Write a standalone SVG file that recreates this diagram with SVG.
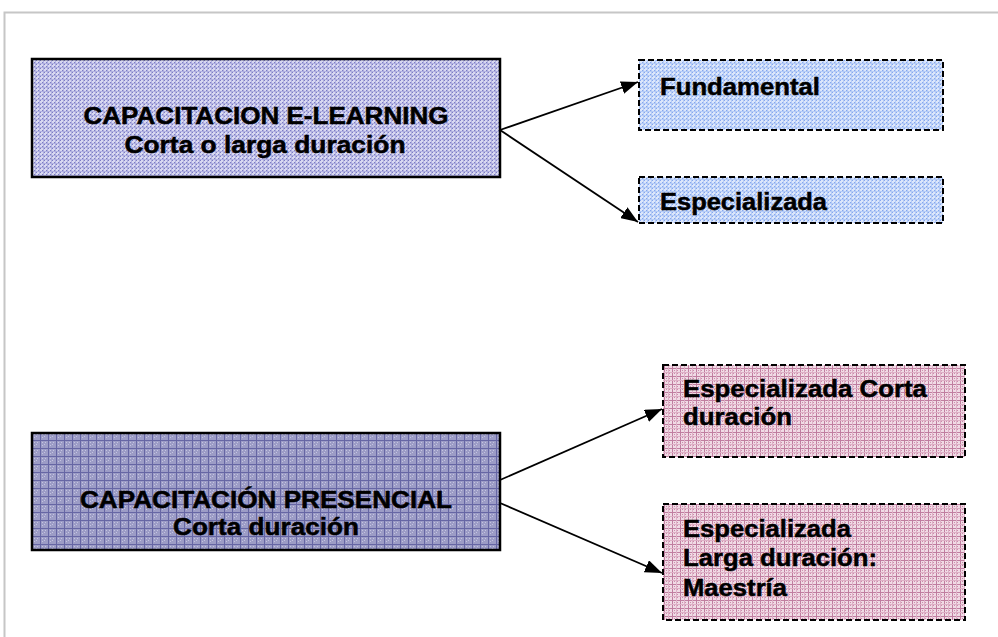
<svg xmlns="http://www.w3.org/2000/svg" width="998" height="637" viewBox="0 0 998 637">
<defs>
<style>
.t{font-family:"Liberation Sans",Arial,sans-serif;font-weight:bold;font-size:23.5px;fill:#000;stroke:#000;stroke-width:0.5px;}
.solid{stroke:#000;stroke-width:2.5;}
.dash{stroke:#000;stroke-width:2;stroke-dasharray:6 3;}
.conn{stroke:#000;stroke-width:1.8;fill:none;}
</style>
<pattern id="pLav" width="4" height="4" patternUnits="userSpaceOnUse">
<rect width="4" height="4" fill="#d8d8f1"/>
<rect x="0" y="0" width="1" height="1" fill="#7c7cc4"/>
<rect x="2" y="2" width="1" height="1" fill="#7c7cc4"/>
<rect x="0" y="3" width="4" height="1" fill="#b0b0e0"/>
<rect x="3" y="0" width="1" height="4" fill="#b0b0e0"/>
</pattern>
<pattern id="pDark" width="8" height="8" patternUnits="userSpaceOnUse">
<rect width="8" height="8" fill="#9c9cc6"/>
<rect x="2" y="2" width="1" height="1" fill="#c4c4e0"/>
<rect x="4" y="4" width="1" height="1" fill="#c4c4e0"/>
<rect x="2" y="5" width="1" height="1" fill="#c4c4e0"/>
<rect x="5" y="2" width="1" height="1" fill="#c4c4e0"/>
<rect x="0" y="0" width="8" height="1" fill="#6666a4"/>
<rect x="0" y="0" width="1" height="8" fill="#6666a4"/>
</pattern>
<pattern id="pBlue" width="4" height="4" patternUnits="userSpaceOnUse">
<rect width="4" height="4" fill="#dbe6fb"/>
<rect x="0" y="0" width="1" height="1" fill="#86a6ee"/>
<rect x="2" y="2" width="1" height="1" fill="#86a6ee"/>
<rect x="0" y="3" width="4" height="1" fill="#b4cbf6"/>
<rect x="3" y="0" width="1" height="4" fill="#b4cbf6"/>
</pattern>
<pattern id="pPink" width="8" height="8" patternUnits="userSpaceOnUse">
<rect width="8" height="8" fill="#f0dbe5"/>
<rect x="2" y="2" width="1" height="1" fill="#cc8cac"/>
<rect x="5" y="5" width="1" height="1" fill="#cc8cac"/>
<rect x="2" y="5" width="1" height="1" fill="#cc8cac"/>
<rect x="5" y="2" width="1" height="1" fill="#cc8cac"/>
<rect x="0" y="0" width="8" height="1" fill="#c07ea0"/>
<rect x="0" y="0" width="1" height="8" fill="#c07ea0"/>
<rect x="0" y="4" width="8" height="1" fill="#deb0c6"/>
<rect x="4" y="0" width="1" height="8" fill="#deb0c6"/>
</pattern>
<marker id="arr" markerWidth="17" markerHeight="13" refX="17" refY="6.5" orient="auto" markerUnits="userSpaceOnUse">
<path d="M0,0 L17,6.5 L0,13 Z" fill="#000"/>
</marker>
</defs>
<rect width="998" height="637" fill="#fff"/>
<path d="M4.5,637 V12.5 H998" fill="none" stroke="#c6c6c6" stroke-width="2"/>

<g id="connectors">
<line class="conn" x1="500" y1="130" x2="638" y2="82" marker-end="url(#arr)"/>
<line class="conn" x1="500" y1="130" x2="638" y2="222" marker-end="url(#arr)"/>
<line class="conn" x1="500" y1="480" x2="662" y2="409" marker-end="url(#arr)"/>
<line class="conn" x1="500" y1="503" x2="662" y2="573" marker-end="url(#arr)"/>
</g>

<g id="elearning">
<rect class="solid" x="32" y="59" width="468" height="118" fill="url(#pLav)"/>
<text class="t" x="266" y="124" text-anchor="middle" textLength="365" lengthAdjust="spacingAndGlyphs">CAPACITACION E-LEARNING</text>
<text class="t" x="265" y="153" text-anchor="middle" textLength="281" lengthAdjust="spacingAndGlyphs">Corta o larga duración</text>
</g>

<g id="fundamental">
<rect class="dash" x="639" y="60" width="304" height="70" fill="url(#pBlue)"/>
<text class="t" x="660" y="95" textLength="160" lengthAdjust="spacingAndGlyphs">Fundamental</text>
</g>

<g id="especializada">
<rect class="dash" x="639" y="177" width="304" height="46" fill="url(#pBlue)"/>
<text class="t" x="660" y="210" textLength="167" lengthAdjust="spacingAndGlyphs">Especializada</text>
</g>

<g id="presencial">
<rect class="solid" x="32" y="433" width="468" height="117" fill="url(#pDark)"/>
<text class="t" x="266" y="508" text-anchor="middle" textLength="372" lengthAdjust="spacingAndGlyphs">CAPACITACIÓN PRESENCIAL</text>
<text class="t" x="266" y="535" text-anchor="middle" textLength="186" lengthAdjust="spacingAndGlyphs">Corta duración</text>
</g>

<g id="esp-corta">
<rect class="dash" x="663" y="365" width="302" height="92" fill="url(#pPink)"/>
<text class="t" x="683" y="397" textLength="244" lengthAdjust="spacingAndGlyphs">Especializada Corta</text>
<text class="t" x="683" y="425" textLength="109" lengthAdjust="spacingAndGlyphs">duración</text>
</g>

<g id="esp-larga">
<rect class="dash" x="663" y="504" width="302" height="116" fill="url(#pPink)"/>
<text class="t" x="683" y="537" textLength="168" lengthAdjust="spacingAndGlyphs">Especializada</text>
<text class="t" x="683" y="566" textLength="194" lengthAdjust="spacingAndGlyphs">Larga duración:</text>
<text class="t" x="683" y="596" textLength="104" lengthAdjust="spacingAndGlyphs">Maestría</text>
</g>
</svg>
